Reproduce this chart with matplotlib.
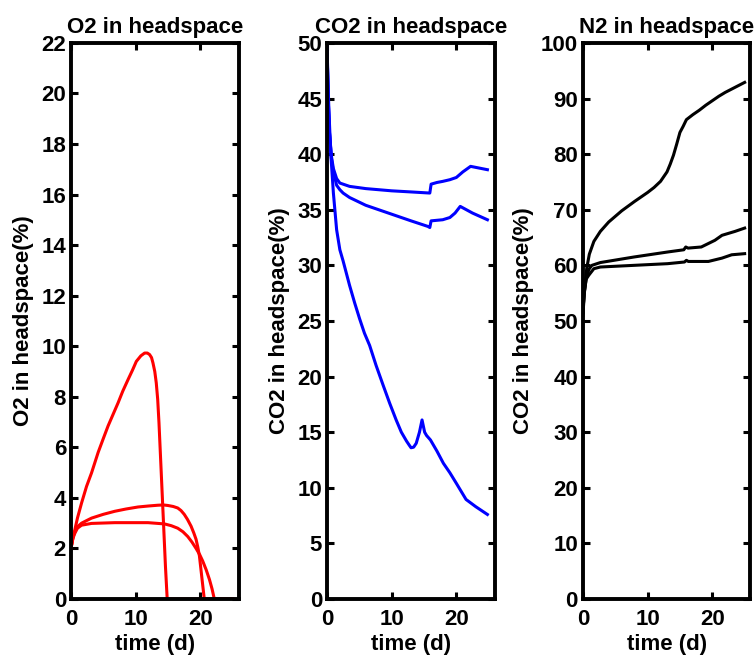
#!/usr/bin/env python3
# headspace gas composition, three panels (O2, CO2, N2)

import matplotlib
matplotlib.use("Agg")
import matplotlib.pyplot as plt

# ---- O2 (%) ----
t_o2_a = [0, 0.3, 0.6, 1.0, 1.64, 2.4, 3.18, 4.2, 5.0, 5.74, 6.5, 7.28, 8.0, 8.82, 9.5, 10.1, 10.8, 11.38,
          11.8, 12.15, 12.45, 12.67, 12.95, 13.18, 13.4, 13.6, 13.95, 14.3, 14.6, 14.87, 20, 25]
o2_a = [2.0, 2.4, 2.74, 3.2, 3.8, 4.45, 4.99, 5.8, 6.35, 6.85, 7.3, 7.76, 8.22, 8.68, 9.05, 9.4, 9.62, 9.73,
        9.73, 9.67, 9.55, 9.34, 9.0, 8.55, 7.9, 6.97, 4.99, 3.0, 1.29, 0, 0, 0]

t_o2_b = [0, 0.3, 0.6, 1.0, 1.64, 2.4, 3.18, 5.0, 6.77, 8.5, 10.36, 12.0, 13.44, 14.3, 14.97, 15.8, 16.5, 17.0,
          17.5, 18.0, 18.56, 19.0, 19.33, 19.6, 19.85, 20.05, 20.26, 20.6, 25]
o2_b = [2.0, 2.45, 2.67, 2.86, 3.0, 3.1, 3.2, 3.35, 3.47, 3.56, 3.64, 3.68, 3.71, 3.72, 3.7, 3.66, 3.6, 3.5,
        3.35, 3.15, 2.88, 2.6, 2.36, 2.05, 1.7, 1.25, 0.77, 0, 0]

t_o2_c = [0, 0.3, 0.6, 1.0, 1.64, 3.18, 6.77, 11.9, 14.46, 15.5, 16.5, 17.3, 18.05, 18.7, 19.33, 19.9, 20.36,
          20.9, 21.4, 21.8, 22.15, 25]
o2_c = [2.0, 2.4, 2.6, 2.8, 2.92, 2.99, 3.02, 3.02, 2.97, 2.9, 2.8, 2.66, 2.47, 2.25, 2.0, 1.75, 1.5,
        1.15, 0.77, 0.4, 0, 0]

# ---- CO2 (%) ----
t_co2_a = [0, 0.2, 0.4, 0.7, 1.0, 1.5, 2.0, 2.5, 3.5, 6, 10, 13, 15.9, 16.1, 17.0, 17.9, 19.0, 20, 21, 22.2, 24.8]
co2_a = [50, 45, 41.9, 39.8, 38.7, 37.8, 37.4, 37.3, 37.1, 36.9, 36.7, 36.6, 36.5, 37.3, 37.45, 37.55, 37.7,
         37.9, 38.4, 38.9, 38.6]

t_co2_b = [0, 0.2, 0.4, 0.7, 1.0, 1.5, 2.0, 2.5, 3.5, 6, 10, 13, 15.6, 15.9, 16.1, 17.0, 17.9, 19, 19.8, 20.6,
           22.5, 24.8]
co2_b = [50, 45, 41.9, 39.6, 38.4, 37.2, 36.8, 36.5, 36.1, 35.4, 34.6, 34.0, 33.5, 33.4, 34.0, 34.05, 34.1,
         34.3, 34.7, 35.3, 34.7, 34.1]

t_co2_c = [0, 0.3, 0.6, 1.0, 1.5, 2.0, 2.5, 3.5, 4.3, 5.05, 5.8, 6.6, 7.6, 8.7, 9.7, 10.7, 11.5, 12.3, 12.7,
           13.0, 13.4, 13.8, 14.3, 14.7, 15.1, 15.4, 16.0, 17.0, 18.0, 19.0, 20.0, 21.5, 23.0, 24.8]
co2_c = [50, 44, 40, 36.5, 33.2, 31.4, 30.4, 28.2, 26.6, 25.2, 23.9, 22.8, 21.0, 19.2, 17.6, 16.1, 15.0, 14.2,
         13.85, 13.6, 13.65, 14.0, 15.0, 16.1, 15.0, 14.7, 14.3, 13.3, 12.2, 11.35, 10.4, 8.95, 8.3, 7.6]

# ---- N2 (%) ----
t_n2_a = [0, 0.3, 0.6, 1.0, 1.7, 2.7, 4, 5, 6, 8, 10, 11, 12, 13, 13.5, 14, 14.5, 15, 15.5, 16, 17, 18, 19, 20,
          21, 22, 23, 24, 25]
n2_a = [51, 56, 59.5, 62, 64.3, 66.1, 67.8, 68.8, 69.8, 71.5, 73.1, 74, 75.1, 76.8, 78.2, 79.8, 81.8, 83.9, 85,
        86.2, 87.1, 87.9, 88.8, 89.6, 90.4, 91.1, 91.7, 92.3, 92.9]

t_n2_b = [0, 0.2, 0.6, 1.0, 1.4, 2.7, 7.9, 13.1, 15.6, 15.9, 16.25, 18.3, 20.4, 21.5, 23.5, 25]
n2_b = [51.5, 55, 58.2, 59.4, 60, 60.5, 61.5, 62.4, 62.8, 63.3, 63.1, 63.3, 64.5, 65.4, 66.1, 66.7]

t_n2_c = [0, 0.2, 0.5, 0.9, 1.7, 2.7, 7.9, 13.1, 15.7, 16.0, 16.3, 19.4, 21.5, 23, 25]
n2_c = [51.5, 55, 57.5, 58.2, 59.4, 59.7, 60.0, 60.3, 60.6, 60.9, 60.7, 60.7, 61.3, 61.9, 62.1]

titles = ["O2 in headspace", "CO2 in headspace", "N2 in headspace"]
ylabels = ["O2 in headspace(%)", "CO2 in headspace(%)", "CO2 in headspace(%)"]
yticks = [list(range(0, 23, 2)), list(range(0, 51, 5)), list(range(0, 101, 10))]
xticks = [0, 10, 20]

plt.rcParams['font.family'] = ['Liberation Sans', 'DejaVu Sans']
plt.rcParams['font.weight'] = 'bold'
plt.rcParams['font.size'] = 16

fig = plt.figure(figsize=(7.55, 6.55), dpi=100)
lefts = [0.094, 0.433, 0.772]
axes = [fig.add_axes([l, 0.0855, 0.222, 0.849]) for l in lefts]
ax1, ax2, ax3 = axes

lw = 2.2
for t, v in [(t_o2_a, o2_a), (t_o2_b, o2_b), (t_o2_c, o2_c)]:
    ax1.plot(t, v, color='red', lw=lw, solid_joinstyle='round')
for t, v in [(t_co2_a, co2_a), (t_co2_b, co2_b), (t_co2_c, co2_c)]:
    ax2.plot(t, v, color='blue', lw=lw, solid_joinstyle='round')
for t, v in [(t_n2_a, n2_a), (t_n2_b, n2_b), (t_n2_c, n2_c)]:
    ax3.plot(t, v, color='black', lw=lw, solid_joinstyle='round')

for ax, title, ylab, yt in zip(axes, titles, ylabels, yticks):
    ax.set_xlim(0, 25.9)
    ax.set_ylim(yt[0], yt[-1])
    ax.set_xticks(xticks)
    ax.set_yticks(yt)
    ax.set_title(title, fontsize=16, fontweight='bold', pad=7)
    ax.set_xlabel("time (d)", fontsize=16, fontweight='bold', labelpad=3)
    ax.set_ylabel(ylab, fontsize=16, fontweight='bold', labelpad=5)
    ax.tick_params(direction='in', length=5, width=2.2, top=True, right=True,
                   labelsize=16)
    ax.tick_params(axis='x', pad=7)
    ax.tick_params(axis='y', pad=3.5)
    for s in ax.spines.values():
        s.set_linewidth(2.8)

fig.savefig("out.png", dpi=100)
